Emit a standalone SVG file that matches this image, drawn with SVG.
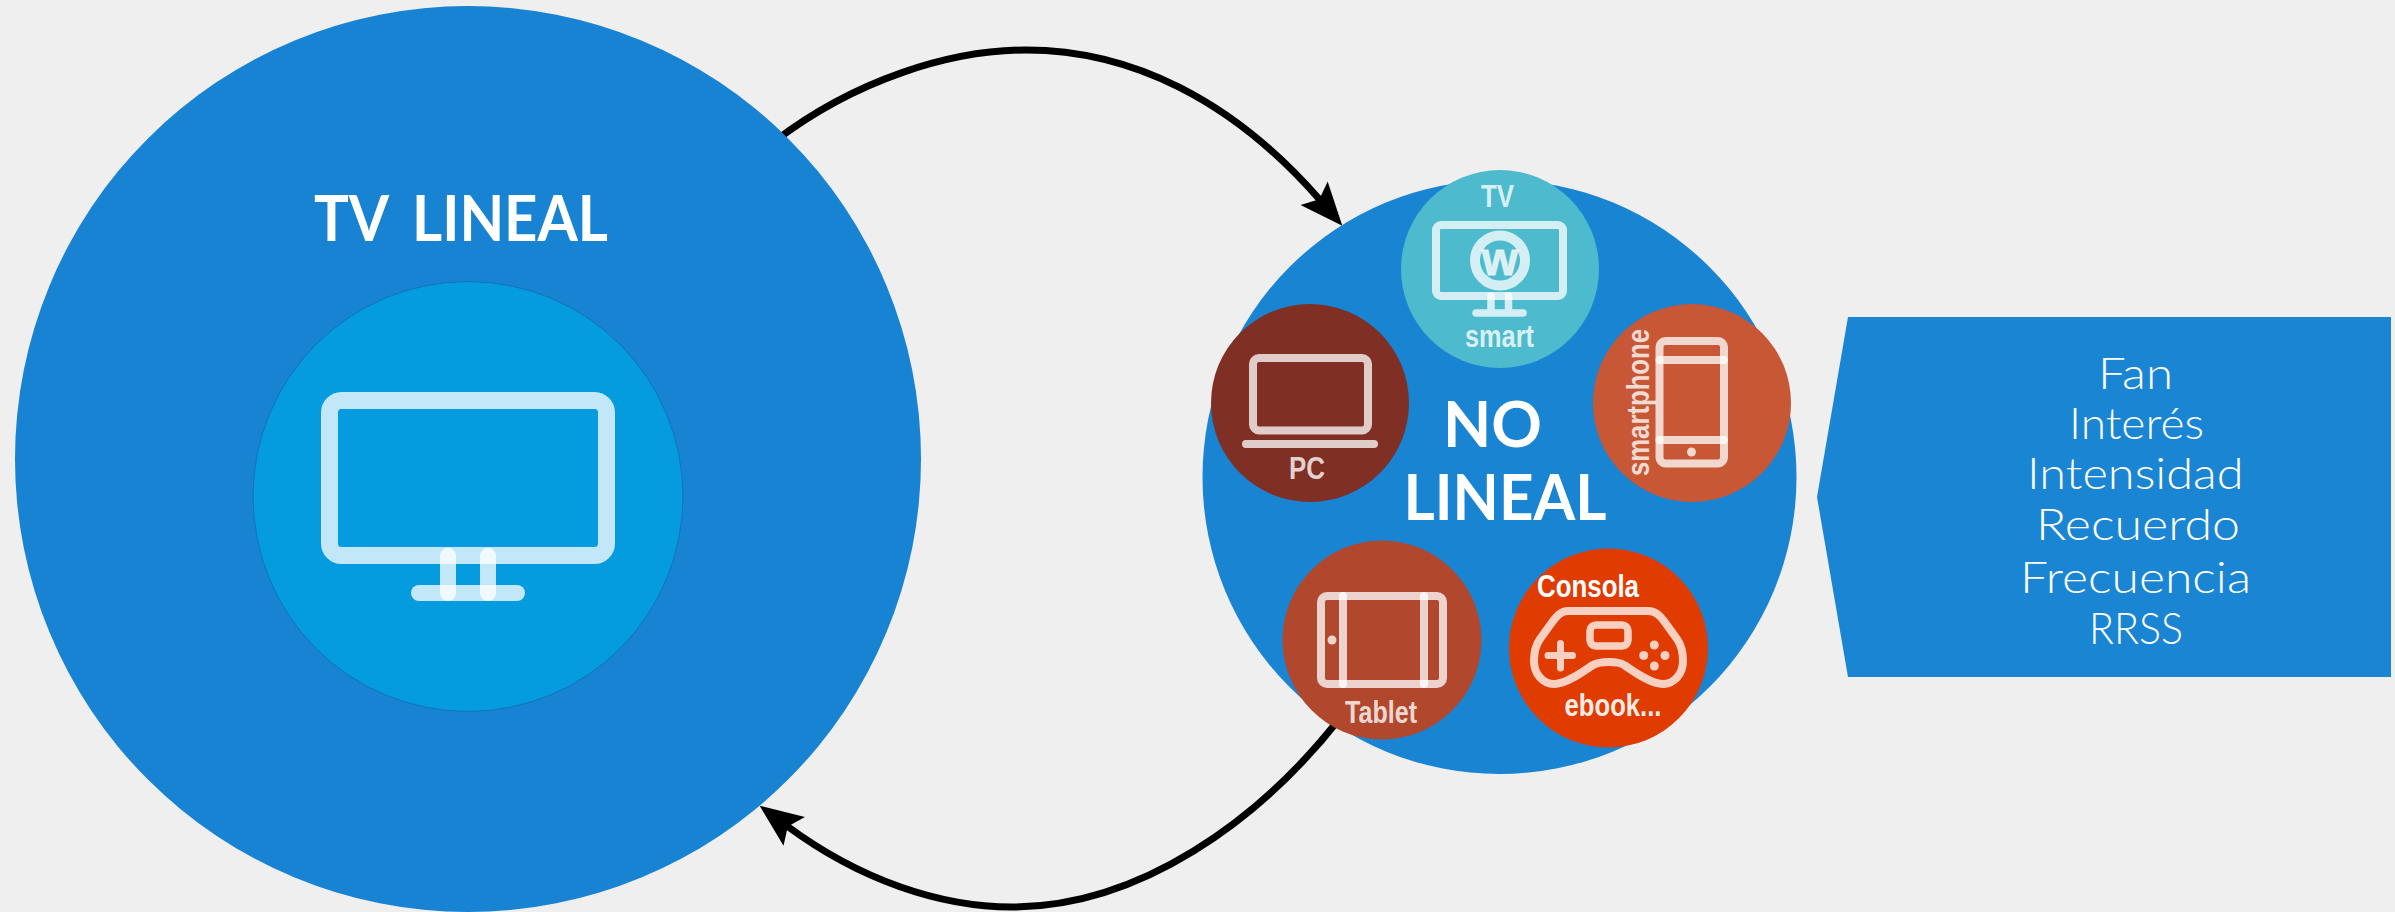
<svg xmlns="http://www.w3.org/2000/svg" width="2395" height="912" viewBox="0 0 2395 912">
<style>
.ic{fill:none;stroke:#fff;stroke-opacity:.76;stroke-width:8;stroke-linecap:round;stroke-linejoin:round}
.dot{fill:#fff;fill-opacity:.76;stroke:none}
.head{font-family:"Lato","Liberation Sans",sans-serif;font-weight:700;font-size:64px;fill:#fff}
.lab{font-family:"Liberation Sans",Arial,sans-serif;font-weight:700;font-size:31px;fill:#fff;fill-opacity:.8}
.list{font-family:"Lato","Liberation Sans",sans-serif;font-weight:300;font-size:44px;fill:#fff}
.cn{fill:none;stroke:#000;stroke-width:7;marker-end:url(#ah)}
</style>
<defs>
<marker id="ah" markerUnits="userSpaceOnUse" markerWidth="70" markerHeight="60" refX="20" refY="30" orient="auto" overflow="visible">
<path d="M11 12L54 30L11 48L19 30Z" fill="#000"/>
</marker>
</defs>
<rect id="background" width="2395" height="912" fill="#efefef"/>
<g id="connectors">
<path class="cn" d="M775 141C855 80 950 50 1026 50C1130 50 1232 99 1320 200"/>
<path class="cn" d="M1340 718C1260 820 1140 907 1012 907C940 907 860 880 787 826"/>
</g>
<g id="tv-lineal">
<circle cx="468" cy="459" r="453" fill="#1883d2"/>
<circle cx="468" cy="496.500" r="215" fill="#049bdf" stroke="#1273b5" stroke-width="1"/>
<g class="ic" style="stroke-width:17">
<rect x="329.500" y="400.500" width="277" height="155" rx="12"/>
<path d="M419 593H517" style="stroke-width:16"/>
<path d="M448 556V593M488 556V593" style="stroke-width:16"/>
</g>
<text class="head" style="word-spacing:12px" x="314" y="241" textLength="294" lengthAdjust="spacingAndGlyphs">TV LINEAL</text>
</g>
<g id="no-lineal">
<circle cx="1499.500" cy="477" r="297" fill="#1884d2"/>
<text class="head" x="1443" y="446.500" textLength="99" lengthAdjust="spacingAndGlyphs">NO</text>
<text class="head" x="1403.500" y="520" textLength="203" lengthAdjust="spacingAndGlyphs">LINEAL</text>
</g>
<g id="tv-smart">
<circle cx="1500" cy="269" r="99" fill="#4dbbcd"/>
<g class="ic">
<rect x="1436" y="225" width="127" height="71" rx="5"/>
<circle cx="1500" cy="260.500" r="25" style="stroke-width:10"/>
<path d="M1476 313H1523M1491 296V313M1508.500 296V313" style="stroke-width:7.500"/>
</g>
<text x="1500" y="275" text-anchor="middle" font-family="'Liberation Sans',sans-serif" font-weight="700" font-size="46" fill="#fff" fill-opacity=".8" stroke="#fff" stroke-opacity=".5" stroke-width="1.500">w</text>
<text class="lab" x="1481" y="207" textLength="33" lengthAdjust="spacingAndGlyphs">TV</text>
<text class="lab" x="1465" y="347" textLength="69" lengthAdjust="spacingAndGlyphs">smart</text>
</g>
<g id="pc">
<circle cx="1310" cy="403" r="99" fill="#7f2f23"/>
<g class="ic">
<rect x="1253" y="358" width="115" height="72.500" rx="6"/>
<path d="M1246 444H1374"/>
</g>
<text class="lab" x="1289" y="479" textLength="36" lengthAdjust="spacingAndGlyphs">PC</text>
</g>
<g id="smartphone">
<circle cx="1692" cy="403" r="99" fill="#c85735"/>
<g class="ic">
<rect x="1659.500" y="341" width="64.500" height="122.500" rx="6"/>
<path d="M1659.500 360H1724M1659.500 440H1724"/>
</g>
<circle class="dot" cx="1691.500" cy="452" r="4.500"/>
<text class="lab" transform="translate(1649 476) rotate(-90)" textLength="147" lengthAdjust="spacingAndGlyphs">smartphone</text>
</g>
<g id="tablet">
<circle cx="1382" cy="640" r="99.500" fill="#b1482e"/>
<g class="ic">
<rect x="1321" y="596" width="122" height="88" rx="6"/>
<path d="M1343 596V684M1424 596V684"/>
</g>
<circle class="dot" cx="1332" cy="640" r="4.500"/>
<text class="lab" x="1345" y="722.500" textLength="72" lengthAdjust="spacingAndGlyphs">Tablet</text>
</g>
<g id="consola">
<circle cx="1608.500" cy="648" r="99.500" fill="#e03c02"/>
<g class="ic">
<path d="M1568 611H1648C1656 611 1660 616 1664 621L1677 639C1682 646 1683 654 1683 661C1683 674 1674 684 1663 684C1650 684 1632 670 1624 665C1618 661 1600 661 1593 665C1585 670 1567 684 1554 684C1543 684 1534 674 1534 661C1534 654 1535 646 1540 639L1553 621C1557 616 1561 611 1568 611Z"/>
<rect x="1590" y="625" width="38" height="21" rx="6" style="stroke-width:7.500"/>
<path d="M1548 655.500H1572.500M1560.500 643.500V668" style="stroke-width:7"/>
</g>
<circle class="dot" cx="1654.300" cy="645" r="4.500"/>
<circle class="dot" cx="1643.700" cy="655.500" r="4.500"/>
<circle class="dot" cx="1665" cy="655.500" r="4.500"/>
<circle class="dot" cx="1654.300" cy="666" r="4.500"/>
<text class="lab" style="fill-opacity:1" x="1537" y="597" textLength="102" lengthAdjust="spacingAndGlyphs">Consola</text>
<text class="lab" style="fill-opacity:.92" x="1564.500" y="716" textLength="97" lengthAdjust="spacingAndGlyphs">ebook...</text>
</g>
<g id="metricas">
<polygon points="1848,317 2391,317 2391,677 1848,677 1817,497" fill="#1985d3"/>
<text class="list" x="2098" y="388.500" textLength="75" lengthAdjust="spacingAndGlyphs">Fan</text>
<text class="list" x="2069" y="438.500" textLength="135" lengthAdjust="spacingAndGlyphs">Interés</text>
<text class="list" x="2027" y="489" textLength="216.500" lengthAdjust="spacingAndGlyphs">Intensidad</text>
<text class="list" x="2036" y="540" textLength="204" lengthAdjust="spacingAndGlyphs">Recuerdo</text>
<text class="list" x="2020" y="593" textLength="231" lengthAdjust="spacingAndGlyphs">Frecuencia</text>
<text class="list" x="2089" y="644" textLength="94" lengthAdjust="spacingAndGlyphs">RRSS</text>
</g>
</svg>
